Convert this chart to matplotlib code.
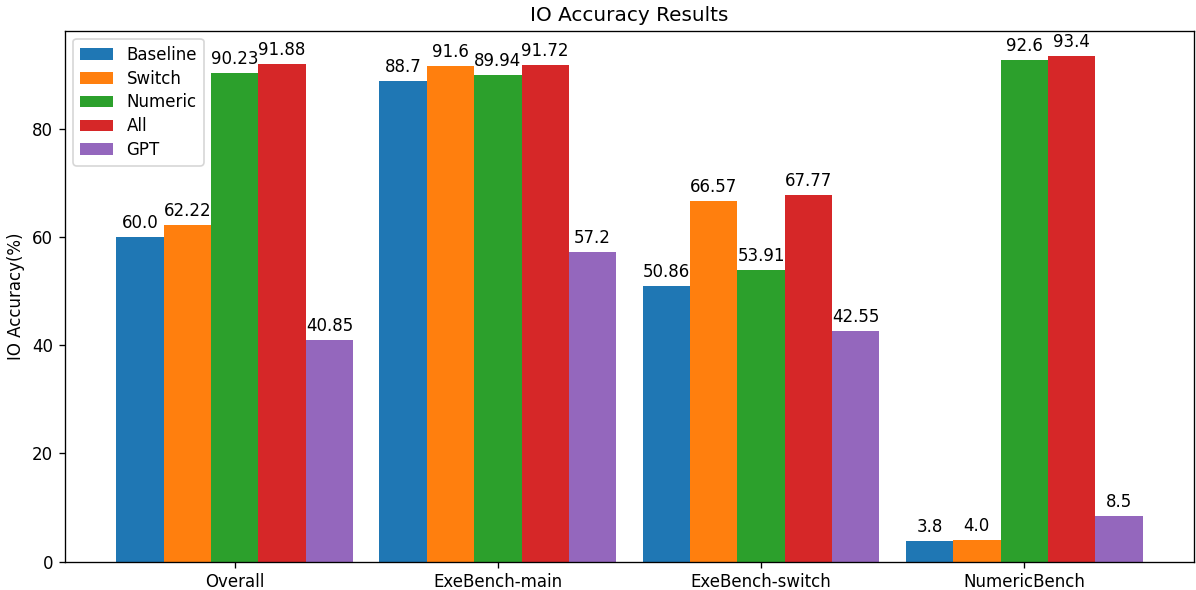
import matplotlib.pyplot as plt
import numpy as np

# Data for the graph
categories = ["Overall", "ExeBench-main", "ExeBench-switch", "NumericBench"]
baseline = [60.0, 88.7, 50.86, 3.8]
switch = [62.22, 91.6, 66.57, 4.0]
numeric = [90.23, 89.94, 53.91, 92.6]
all_ = [91.88, 91.72, 67.77, 93.4]
gpt = [40.85, 57.2, 42.55, 8.5]

series = [("Baseline", baseline), ("Switch", switch), ("Numeric", numeric),
          ("All", all_), ("GPT", gpt)]

fig, ax = plt.subplots(figsize=(1196 / 120, 590 / 120), dpi=120)
bar_width = 0.18
x = np.arange(len(categories))

for i, (name, vals) in enumerate(series):
    bars = ax.bar(x + (i - 2) * bar_width, vals, bar_width, label=name)
    ax.bar_label(bars, labels=[str(v) for v in vals], padding=3)

ax.set_ylabel("IO Accuracy(%)")
ax.set_title("IO Accuracy Results")
ax.set_xticks(x)
ax.set_xticklabels(categories)
ax.legend(loc="upper left", labelspacing=0.35)

plt.subplots_adjust(left=0.0543, right=0.9983, top=0.948, bottom=0.048)
plt.savefig("out.png")
